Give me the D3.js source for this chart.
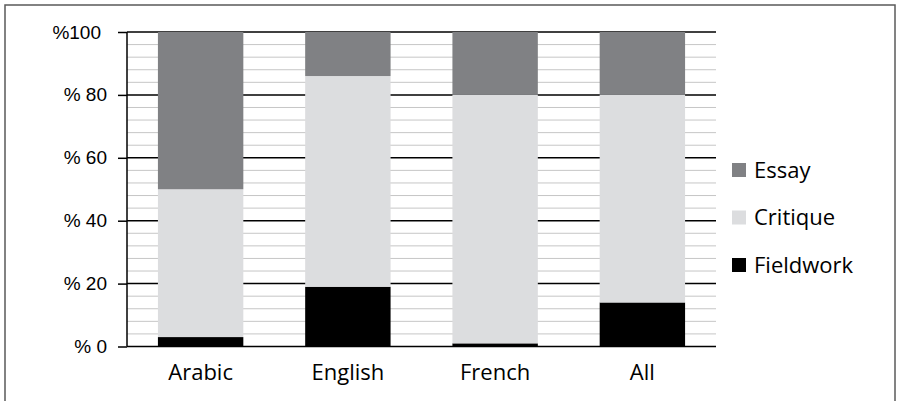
<!DOCTYPE html>
<html><head><meta charset="utf-8">
<script src="https://cdn.jsdelivr.net/npm/d3@7"></script>
<style>body{margin:0;background:#fff}svg{display:block}</style>
</head><body><svg id="c" width="897" height="401"></svg>
<script>
const categories = ["Arabic","English","French","All"];
const fieldwork = [3, 19, 1, 14];
const critique  = [47, 67, 79, 66];
const essay     = [50, 14, 20, 20];
const seriesNames = ["Fieldwork","Critique","Essay"];
const seriesColors = ["#000000","#dcdddf","#808184"];
const tickValues = [0,20,40,60,80,100];
const tickLabels = ["% 0","% 20","% 40","% 60","% 80","%100"];
const minorTicks = d3.range(0,101,4);

const svg = d3.select("#c");
svg.append("rect").attr("x",5).attr("y",5).attr("width",890).attr("height",420)
  .attr("fill","#fff").attr("stroke","#5a5a5a").attr("stroke-width",1.5);

const pL=127, pR=716, pT=32, pB=346.5;
const x = d3.scaleBand().domain(categories).range([pL,pR]).paddingInner(0.42).paddingOuter(0.21);
const y = d3.scaleLinear().domain([0,100]).range([pB,pT]);

// minor gridlines
svg.append("g").selectAll("line").data(minorTicks.filter(v=>v%20!==0)).join("line")
  .attr("x1",pL).attr("x2",pR).attr("y1",d=>y(d)).attr("y2",d=>y(d))
  .attr("stroke","#c6c6c6").attr("stroke-width",1);
// major gridlines
svg.append("g").selectAll("line").data(tickValues).join("line")
  .attr("x1",pL).attr("x2",pR).attr("y1",d=>y(d)).attr("y2",d=>y(d))
  .attr("stroke","#000").attr("stroke-width",1.5);

const data = categories.map((c,i)=>({cat:c, Fieldwork:fieldwork[i], Critique:critique[i], Essay:essay[i]}));
const stack = d3.stack().keys(seriesNames)(data);
svg.append("g").selectAll("g").data(stack).join("g")
  .attr("fill",(d,i)=>seriesColors[i])
  .selectAll("rect").data(d=>d).join("rect")
  .attr("x",d=>x(d.data.cat)).attr("width",x.bandwidth())
  .attr("y",d=>y(d[1])).attr("height",d=>y(d[0])-y(d[1]));

// y axis
const yAxis = d3.axisLeft(y).tickValues(tickValues).tickSize(9).tickPadding(11)
  .tickFormat((d,i)=>tickLabels[i]);
const ya = svg.append("g").attr("transform",`translate(${pL},0)`).call(yAxis);
ya.select(".domain").attr("stroke","#000").attr("stroke-width",1.5).attr("d",`M0,${pB}V${pT}`);
ya.selectAll(".tick line").attr("stroke","#000").attr("stroke-width",1.5);
ya.selectAll(".tick text").attr("font-family","'Liberation Sans', Arial, sans-serif")
  .attr("font-size",19).attr("fill","#000")
  .attr("dx",d=>d===100?-6:0);

// x axis labels
const xa = svg.append("g").attr("transform",`translate(0,${pB})`)
  .call(d3.axisBottom(x).tickSize(0).tickPadding(18));
xa.select(".domain").remove();
xa.selectAll(".tick text").attr("font-family","'Open Sans', sans-serif")
  .attr("font-size",22).attr("fill","#000");

// legend
const legendOrder = ["Essay","Critique","Fieldwork"];
const lg = svg.append("g").selectAll("g").data(legendOrder).join("g")
  .attr("transform",(d,i)=>`translate(732,${170+i*47.5})`);
lg.append("rect").attr("x",0).attr("y",-7).attr("width",14).attr("height",14)
  .attr("fill",d=>seriesColors[seriesNames.indexOf(d)]);
lg.append("text").attr("x",22).attr("y",0).attr("dy","0.35em")
  .attr("font-family","'Open Sans', sans-serif").attr("font-size",22).attr("fill","#000")
  .text(d=>d);
</script></body></html>
